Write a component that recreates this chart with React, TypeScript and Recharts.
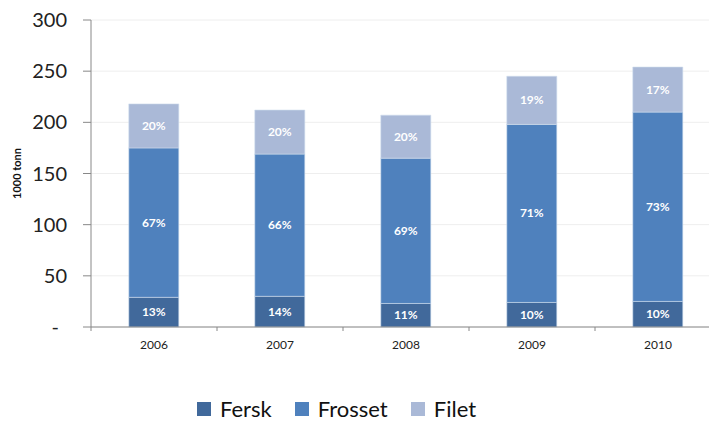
import React from 'react';
import { BarChart, Bar, XAxis, YAxis, CartesianGrid, LabelList, Legend } from 'recharts';

const years = ['2006', '2007', '2008', '2009', '2010'];
const fersk = [29, 30, 23, 24, 25];
const frosset = [146, 139, 142, 174, 185];
const filet = [43, 43, 42, 47, 44];
const yTicks = [0, 50, 100, 150, 200, 250, 300];

const seriesNames = ['Fersk', 'Frosset', 'Filet'];
const colors = ['#41699B', '#4F81BD', '#AAB9D7'];

const data = years.map((y, i) => ({ year: y, Fersk: fersk[i], Frosset: frosset[i], Filet: filet[i] }));
const totals = years.map((_, i) => fersk[i] + frosset[i] + filet[i]);

const FONT = 'Lato, "Open Sans", sans-serif';

const makeLabel = (key: string) => (props: any) => {
  const { x, y, width, height, index } = props;
  const v = (data[index] as any)[key];
  const pct = Math.round((v / totals[index]) * 100);
  return (
    <text x={x + width / 2} y={y + height / 2} dy={4} textAnchor="middle" fill="#fff" fontSize={12} fontWeight={700} fontFamily={FONT}>
      {pct}%
    </text>
  );
};

const XTick = (props: any) => {
  const { x, y, payload, index } = props;
  const half = 63;
  return (
    <g>
      <line x1={x - half} x2={x - half} y1={y - 8} y2={y - 4} stroke="#888" />
      {index === years.length - 1 && <line x1={x + half} x2={x + half} y1={y - 8} y2={y - 4} stroke="#888" />}
      <text x={x} y={y + 14} textAnchor="middle" fontSize={12} fill="#222" fontFamily={FONT}>{payload.value}</text>
    </g>
  );
};

const YTick = (props: any) => {
  const { x, y, payload } = props;
  const isZero = payload.value === 0;
  return (
    <text x={isZero ? x - 8 : x} y={y} dy={7} textAnchor="end" fontSize={20} fill="#222" fontFamily={FONT}>
      {isZero ? '-' : payload.value}
    </text>
  );
};

const LegendContent = () => (
  <div style={{ display: 'flex', justifyContent: 'flex-start', alignItems: 'center', paddingLeft: 197, fontFamily: FONT, fontSize: 22, color: '#111' }}>
    {seriesNames.map((n, i) => (
      <div key={n} style={{ display: 'flex', alignItems: 'center', marginRight: i < 2 ? 23 : 0 }}>
        <div style={{ width: 14, height: 14, background: colors[i], marginRight: 9 }} />
        <span>{n}</span>
      </div>
    ))}
  </div>
);

export default function App() {
  return (
    <div style={{ position: 'fixed', left: 0, top: 0, width: 709, height: 424, overflow: 'hidden', background: '#fff' }}>
      <BarChart
        width={730}
        height={424}
        data={data}
        margin={{ top: 20, right: 9, bottom: 67, left: 0 }}
        barCategoryGap="30%"
      >
        <CartesianGrid vertical={false} stroke="#eeeeee" />
        <XAxis dataKey="year" axisLine={{ stroke: '#888' }} tickLine={false} tick={<XTick />} height={30} interval={0} />
        <YAxis
          width={91}
          domain={[0, 300]}
          ticks={yTicks}
          interval={0}
          axisLine={{ stroke: '#888' }}
          tickLine={{ stroke: '#888' }}
          tickSize={8}
          tickMargin={16}
          tick={<YTick />}
          label={{
            content: (p: any) => {
              const vb = p.viewBox;
              const cy = vb.y + vb.height / 2;
              return (
                <text x={21} y={cy} transform={`rotate(-90 21 ${cy})`} textAnchor="middle" fontSize={11} fontWeight={700} fill="#111" fontFamily={FONT}>
                  1000 tonn
                </text>
              );
            },
          }}
        />
        <Legend
          layout="horizontal"
          verticalAlign="middle"
          align="center"
          content={<LegendContent />}
          wrapperStyle={{ position: 'absolute', top: 395, left: 0, width: 709 }}
        />
        {seriesNames.map((n, i) => (
          <Bar key={n} dataKey={n} stackId="a" fill={colors[i]} stroke="#cfdbec" strokeWidth={0.6} isAnimationActive={false}>
            <LabelList dataKey={n} content={makeLabel(n)} />
          </Bar>
        ))}
      </BarChart>
    </div>
  );
}
